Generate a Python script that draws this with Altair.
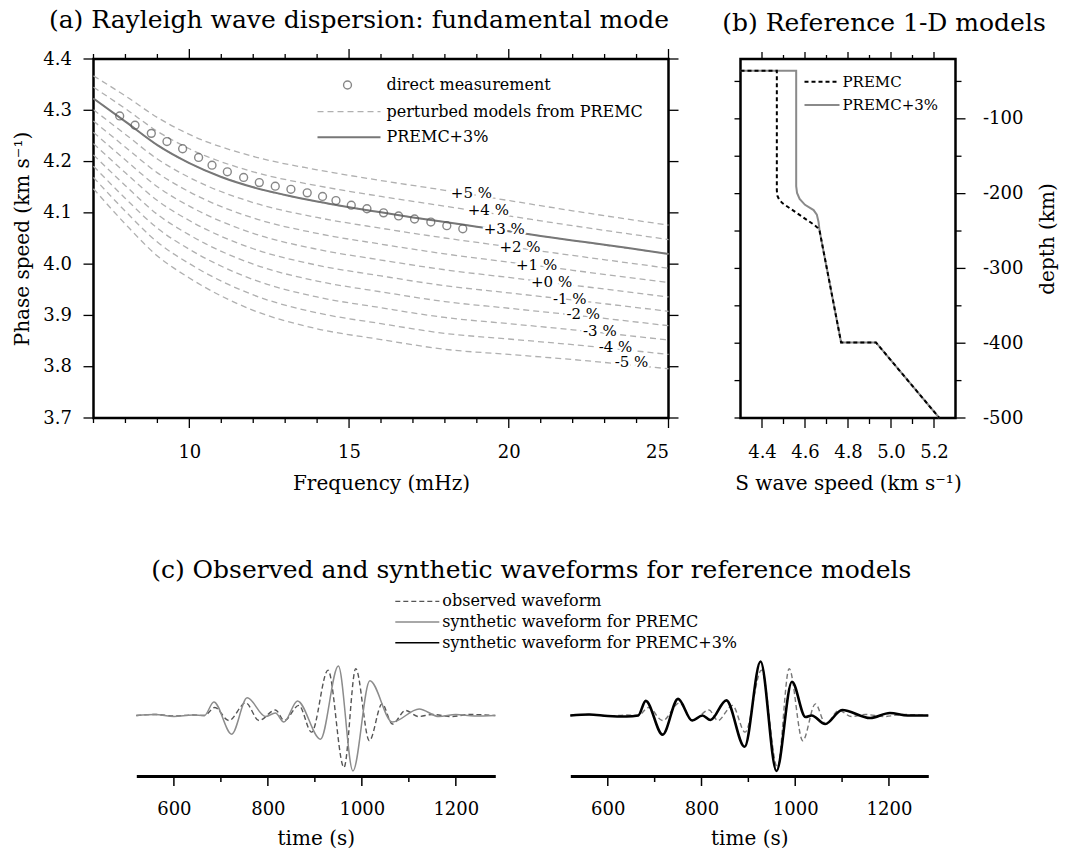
import altair as alt
import pandas as pd

FONT = "DejaVu Serif"

# ---------------- (a) Rayleigh wave dispersion ----------------
curve_freq = [7, 8, 9, 10, 12, 14, 16, 18, 20, 22, 25]
pert_names = ["+5 %", "+4 %", "+3 %", "+2 %", "+1 %", "+0 %", "-1 %", "-2 %", "-3 %", "-4 %", "-5 %"]
pert_p5 = [4.367, 4.328, 4.286, 4.253, 4.210, 4.184, 4.163, 4.144, 4.124, 4.104, 4.076]
pert_p4 = [4.345, 4.303, 4.259, 4.225, 4.180, 4.153, 4.132, 4.113, 4.094, 4.075, 4.048]
pert_p3 = [4.323, 4.278, 4.232, 4.197, 4.150, 4.122, 4.101, 4.082, 4.064, 4.046, 4.020]
pert_p2 = [4.301, 4.253, 4.205, 4.169, 4.120, 4.091, 4.070, 4.051, 4.034, 4.017, 3.992]
pert_p1 = [4.279, 4.228, 4.178, 4.141, 4.090, 4.060, 4.039, 4.020, 4.004, 3.988, 3.964]
pert_0 = [4.257, 4.203, 4.151, 4.113, 4.060, 4.029, 4.008, 3.989, 3.974, 3.959, 3.936]
pert_m1 = [4.235, 4.178, 4.124, 4.085, 4.030, 3.998, 3.977, 3.958, 3.944, 3.930, 3.908]
pert_m2 = [4.213, 4.153, 4.097, 4.057, 4.000, 3.967, 3.946, 3.927, 3.914, 3.901, 3.880]
pert_m3 = [4.191, 4.128, 4.070, 4.029, 3.970, 3.936, 3.915, 3.896, 3.884, 3.872, 3.852]
pert_m4 = [4.169, 4.103, 4.043, 4.001, 3.940, 3.905, 3.884, 3.865, 3.854, 3.843, 3.824]
pert_m5 = [4.147, 4.078, 4.016, 3.973, 3.910, 3.874, 3.853, 3.834, 3.824, 3.814, 3.796]
pert_arrays = [pert_p5, pert_p4, pert_p3, pert_p2, pert_p1, pert_0,
               pert_m1, pert_m2, pert_m3, pert_m4, pert_m5]

premc3_freq = [7, 8, 9, 10, 11, 12, 13, 14, 15, 16, 17, 18, 19, 20, 21, 22, 23, 24, 25]
premc3_speed = [4.323, 4.278, 4.232, 4.197, 4.170, 4.150, 4.135, 4.122, 4.111, 4.101,
                4.091, 4.082, 4.073, 4.064, 4.055, 4.046, 4.038, 4.029, 4.020]

meas_freq = [7.82, 8.30, 8.81, 9.30, 9.79, 10.29, 10.71, 11.19, 11.70, 12.19, 12.69, 13.18,
             13.69, 14.17, 14.59, 15.07, 15.56, 16.08, 16.55, 17.05, 17.56, 18.06, 18.56]
meas_speed = [4.289, 4.271, 4.255, 4.239, 4.225, 4.208, 4.193, 4.180, 4.169, 4.159, 4.152, 4.146,
              4.139, 4.132, 4.124, 4.115, 4.108, 4.100, 4.094, 4.088, 4.082, 4.075, 4.069]

label_freq = [18.83, 19.36, 19.86, 20.35, 20.87, 21.34, 21.91, 22.33, 22.85, 23.34, 23.84]
label_speed = [4.139, 4.106, 4.069, 4.034, 3.998, 3.966, 3.933, 3.902, 3.870, 3.838, 3.809]

freq_major = [10, 15, 20, 25]
freq_minor = [7, 8, 9, 11, 12, 13, 14, 16, 17, 18, 19, 21, 22, 23, 24]
speed_ticks = [3.7, 3.8, 3.9, 4.0, 4.1, 4.2, 4.3, 4.4]

legend_a = ["direct measurement", "perturbed models from PREMC", "PREMC+3%"]

# ---------------- (b) reference 1-D models ----------------
premc_vs = [4.30, 4.469, 4.469, 4.472, 4.480, 4.496, 4.644, 4.660, 4.668, 4.768, 4.930, 5.225]
premc_depth = [-35.6, -35.6, -196, -203, -208, -213, -242, -246, -250, -399, -399, -500]
premc3_vs = [4.30, 4.559, 4.559, 4.563, 4.575, 4.600, 4.640, 4.655, 4.663, 4.668, 4.768, 4.930, 5.225]
premc3_depth = [-35.6, -35.6, -190, -199, -207, -215, -222, -228, -238, -250, -399, -399, -500]
vs_major = [4.4, 4.6, 4.8, 5.0, 5.2]
vs_minor = [4.5, 4.7, 4.9, 5.1]
depth_major = [-100, -200, -300, -400, -500]
depth_minor = [-50, -150, -250, -350, -450]
legend_b = ["PREMC", "PREMC+3%"]

# ---------------- (c) waveforms ----------------
obs_t = [520, 560, 600, 640, 665, 687, 717, 753, 781, 816, 835, 866, 893, 928, 962, 987,
         1016, 1043, 1065, 1093, 1120, 1150, 1190, 1230, 1284]
obs_a = [0.0, 0.02, -0.01, 0.01, 0.0, 0.16, -0.10, 0.25, -0.10, 0.11, -0.10, 0.20, -0.33, 0.90,
         -1.03, 0.93, -0.50, 0.23, -0.17, 0.10, -0.02, 0.02, -0.02, 0.02, 0.0]
syn_premc_t = [520, 560, 600, 640, 665, 685, 723, 756, 795, 816, 834, 863, 912, 950, 981,
               1017, 1065, 1122, 1164, 1200, 1240, 1284]
syn_premc_a = [0.0, 0.02, -0.02, 0.01, 0.0, 0.27, -0.37, 0.35, -0.02, 0.05, -0.13, 0.29, -0.47,
               0.98, -1.10, 0.69, -0.13, 0.13, -0.02, 0.02, -0.01, 0.0]
syn_premc3_t = [520, 560, 600, 640, 665, 681, 717, 750, 780, 802, 819, 853, 892, 926, 960,
                993, 1022, 1035, 1064, 1100, 1160, 1202, 1240, 1284]
syn_premc3_a = [0.0, 0.02, -0.01, -0.02, 0.0, 0.29, -0.38, 0.33, -0.10, 0.0, -0.09, 0.30, -0.62,
                1.07, -1.10, 0.67, -0.03, 0.0, -0.17, 0.11, -0.05, 0.05, 0.0, 0.0]
time_major = [600, 800, 1000, 1200]
time_minor = [700, 900, 1100]
legend_c = ["observed waveform", "synthetic waveform for PREMC", "synthetic waveform for PREMC+3%"]


def ax(**kw):
    base = dict(labelFont=FONT, titleFont=FONT, labelColor="black", titleColor="black",
                domain=False, grid=False, ticks=False, tickSize=0,
                titleFontWeight="normal", labelFontSize=18, titleFontSize=20)
    base.update(kw)
    return alt.Axis(**base)


def title(text, dx, offset):
    return alt.Title(text, font=FONT, fontSize=25, fontWeight="normal", color="black",
                     anchor="middle", frame="group", dx=dx, offset=offset)


def xticks(values, scale, y0, y1, w=1.3):
    return alt.Chart(pd.DataFrame({"v": values})).mark_rule(
        color="black", strokeWidth=w, clip=False).encode(
        x=alt.X("v:Q", scale=scale, axis=None), y=alt.value(y0), y2=alt.value(y1))


def yticks(values, scale, x0, x1, w=1.3):
    return alt.Chart(pd.DataFrame({"v": values})).mark_rule(
        color="black", strokeWidth=w, clip=False).encode(
        y=alt.Y("v:Q", scale=scale, axis=None), x=alt.value(x0), x2=alt.value(x1))


frame = alt.ViewBackground(stroke="black", strokeWidth=2.5, strokeOpacity=1)
noframe = alt.ViewBackground(strokeOpacity=0)
one = pd.DataFrame({"k": [0]})

# ================= panel (a) =================
WA, HA = 575, 359
xA = alt.Scale(domain=[7, 25], nice=False, zero=False)
yA = alt.Scale(domain=[3.7, 4.4], nice=False, zero=False)

df_pert = pd.DataFrame([
    {"curve": n, "freq": f, "speed": v}
    for n, arr in zip(pert_names, pert_arrays) for f, v in zip(curve_freq, arr)
])
df_p3 = pd.DataFrame({"freq": premc3_freq, "speed": premc3_speed})
df_meas = pd.DataFrame({"freq": meas_freq, "speed": meas_speed})
df_lab = pd.DataFrame({"freq": label_freq, "speed": label_speed, "label": pert_names})

pert = alt.Chart(df_pert).mark_line(
    color="#b0b0b0", strokeWidth=1.3, strokeDash=[6, 4], interpolate="monotone"
).encode(
    x=alt.X("freq:Q", scale=xA, axis=ax(orient="bottom", values=freq_major,
            title="Frequency (mHz)", labelPadding=25, titlePadding=12)),
    y=alt.Y("speed:Q", scale=yA, axis=ax(orient="left", values=speed_ticks, format=".1f",
            labelPadding=22, title="Phase speed (km s⁻¹)", titlePadding=10)),
    detail="curve:N",
)
solid = alt.Chart(df_p3).mark_line(color="#777777", strokeWidth=2, interpolate="monotone").encode(
    x=alt.X("freq:Q", scale=xA, axis=None), y=alt.Y("speed:Q", scale=yA, axis=None))
circles = alt.Chart(df_meas).mark_point(shape="circle", filled=False, color="#555555",
                                        size=62, strokeWidth=1.4).encode(
    x=alt.X("freq:Q", scale=xA, axis=None), y=alt.Y("speed:Q", scale=yA, axis=None))
halo = alt.Chart(df_lab).mark_text(font=FONT, fontSize=15, color="white", stroke="white",
                                   strokeWidth=5).encode(
    x=alt.X("freq:Q", scale=xA, axis=None), y=alt.Y("speed:Q", scale=yA, axis=None), text="label:N")
labels = alt.Chart(df_lab).mark_text(font=FONT, fontSize=15, color="black").encode(
    x=alt.X("freq:Q", scale=xA, axis=None), y=alt.Y("speed:Q", scale=yA, axis=None), text="label:N")

ticksA = [
    xticks(freq_major, xA, HA, HA + 10), xticks(freq_minor, xA, HA, HA + 5),
    xticks(freq_major, xA, 0, -10), xticks(freq_minor, xA, 0, -5),
    yticks(speed_ticks, yA, 0, -10), yticks(speed_ticks, yA, WA, WA + 10),
]

legA = [
    alt.Chart(one).mark_point(shape="circle", filled=False, color="#555555", size=62,
                              strokeWidth=1.4).encode(x=alt.value(254), y=alt.value(26)),
    alt.Chart(one).mark_rule(color="#b0b0b0", strokeWidth=1.3, strokeDash=[6, 4]).encode(
        x=alt.value(224), x2=alt.value(287), y=alt.value(52.7)),
    alt.Chart(one).mark_rule(color="#777777", strokeWidth=2).encode(
        x=alt.value(224), x2=alt.value(287), y=alt.value(78.3)),
]
for txt, yy in zip(legend_a, [26, 52.7, 78.3]):
    legA.append(alt.Chart(pd.DataFrame({"t": [txt]})).mark_text(
        font=FONT, fontSize=16, align="left", baseline="middle", color="black").encode(
        text="t:N", x=alt.value(293), y=alt.value(yy)))

panelA = alt.layer(pert, solid, circles, halo, labels, *ticksA, *legA).resolve_axis(
    x="independent", y="independent").properties(
    width=WA, height=HA, view=frame,
    title=title("(a) Rayleigh wave dispersion: fundamental mode", -22, 15))

# ================= panel (b) =================
WB, HB = 215, 359
xB = alt.Scale(domain=[4.3, 5.3], nice=False, zero=False)
yB = alt.Scale(domain=[-500, -20], nice=False, zero=False)

df_premc = pd.DataFrame({"vs": premc_vs, "depth": premc_depth, "i": range(len(premc_vs))})
df_premc3 = pd.DataFrame({"vs": premc3_vs, "depth": premc3_depth, "i": range(len(premc3_vs))})

lineB3 = alt.Chart(df_premc3).mark_line(color="#8a8a8a", strokeWidth=2).encode(
    x=alt.X("vs:Q", scale=xB, axis=ax(orient="bottom", values=vs_major, format=".1f",
            title="S wave speed (km s⁻¹)", labelPadding=25, titlePadding=12)),
    y=alt.Y("depth:Q", scale=yB, axis=ax(orient="right", values=depth_major,
            labelExpr="'' + datum.value", title="depth (km)", titleAngle=270,
            titleBaseline="top", labelPadding=27, titlePadding=15)),
    order="i:Q")
lineB0 = alt.Chart(df_premc).mark_line(color="black", strokeWidth=2, strokeDash=[4, 3]).encode(
    x=alt.X("vs:Q", scale=xB, axis=None), y=alt.Y("depth:Q", scale=yB, axis=None), order="i:Q")
ticksB = [
    xticks(vs_major, xB, HB, HB + 10), xticks(vs_minor, xB, HB, HB + 6),
    xticks(vs_major, xB, 0, -7), xticks(vs_minor, xB, 0, -4),
    yticks(depth_major + depth_minor, yB, 0, -6),
    yticks(depth_major, yB, WB, WB + 10), yticks(depth_minor, yB, WB, WB + 6),
]
legB = [
    alt.Chart(one).mark_rule(color="black", strokeWidth=2, strokeDash=[4, 3]).encode(
        x=alt.value(64), x2=alt.value(99), y=alt.value(22.7)),
    alt.Chart(one).mark_rule(color="#8a8a8a", strokeWidth=2).encode(
        x=alt.value(64), x2=alt.value(99), y=alt.value(46)),
]
for txt, yy in zip(legend_b, [22.7, 46]):
    legB.append(alt.Chart(pd.DataFrame({"t": [txt]})).mark_text(
        font=FONT, fontSize=15, align="left", baseline="middle", color="black").encode(
        text="t:N", x=alt.value(102), y=alt.value(yy)))

panelB = alt.layer(lineB3, lineB0, *ticksB, *legB).resolve_axis(
    x="independent", y="independent").properties(
    width=WB, height=HB, view=frame,
    title=title("(b) Reference 1-D models", 36, 15))

# ================= panel (c) =================
HC = 121
xC = alt.Scale(domain=[520, 1284], nice=False, zero=False)
yC = alt.Scale(domain=[-1.2, 1.2], nice=False, zero=False)
axC = ax(orient="bottom", values=time_major, format="d",
         domain=True, domainColor="black", domainWidth=3,
         title="time (s)", labelPadding=24, titlePadding=10)

df_obs = pd.DataFrame({"t": obs_t, "a": obs_a})
df_s0 = pd.DataFrame({"t": syn_premc_t, "a": syn_premc_a})
df_s3 = pd.DataFrame({"t": syn_premc3_t, "a": syn_premc3_a})


def wave(df, axis, **mk):
    return alt.Chart(df).mark_line(interpolate="monotone", **mk).encode(
        x=alt.X("t:Q", scale=xC, axis=axis), y=alt.Y("a:Q", scale=yC, axis=None))


def ticksC():
    return [xticks(time_major, xC, HC, HC + 10, 1.5), xticks(time_minor, xC, HC, HC + 6, 1.5)]


C1 = alt.layer(
    wave(df_obs, axC, color="#555555", strokeWidth=1.4, strokeDash=[5, 3]),
    wave(df_s0, None, color="#8c8c8c", strokeWidth=1.5),
    *ticksC(),
).resolve_axis(x="independent", y="independent").properties(width=359, height=HC, view=noframe)
C2 = alt.layer(
    wave(df_obs, axC, color="#777777", strokeWidth=1.4, strokeDash=[5, 3]),
    wave(df_s3, None, color="black", strokeWidth=2.6),
    *ticksC(),
).resolve_axis(x="independent", y="independent").properties(width=358, height=HC, view=noframe)

df_legc = pd.DataFrame({"label": legend_c})
ysc = alt.Y("label:N", sort=legend_c, scale=alt.Scale(type="point", padding=0.5), axis=None)
legC_lines = alt.Chart(df_legc).mark_rule().encode(
    x=alt.value(259), x2=alt.value(303), y=ysc,
    color=alt.Color("label:N", scale=alt.Scale(domain=legend_c, range=["#555555", "#8c8c8c", "black"]), legend=None),
    strokeWidth=alt.StrokeWidth("label:N", scale=alt.Scale(domain=legend_c, range=[1.4, 1.5, 2.6]), legend=None),
    strokeDash=alt.StrokeDash("label:N", scale=alt.Scale(domain=legend_c, range=[[5, 3], [1, 0], [1, 0]]), legend=None),
)
legC_text = alt.Chart(df_legc).mark_text(font=FONT, fontSize=16, align="left", baseline="middle",
                                         color="black").encode(
    x=alt.value(306), y=ysc, text="label:N")
legendC = alt.layer(legC_lines, legC_text).properties(
    width=790, height=62, view=noframe,
    title=title("(c) Observed and synthetic waveforms for reference models", 0, 8))

spacer = alt.Chart(one).mark_rule(opacity=0).encode(
    x=alt.value(0), x2=alt.value(0), y=alt.value(0)).properties(width=20, height=1, view=noframe)

top = alt.hconcat(panelA, panelB, spacing=40)
bottom = alt.hconcat(
    spacer,
    alt.vconcat(legendC, alt.hconcat(C1, C2, spacing=66), spacing=2),
    spacing=19.8,
)
chart = alt.vconcat(top, bottom, spacing=63).properties(
    padding={"left": 11.5, "top": 7, "right": 5, "bottom": 0}
).configure(background="white").configure_view(strokeOpacity=0, clip=False)

chart.save("out.html", embed_options={"renderer": "svg", "actions": False})
